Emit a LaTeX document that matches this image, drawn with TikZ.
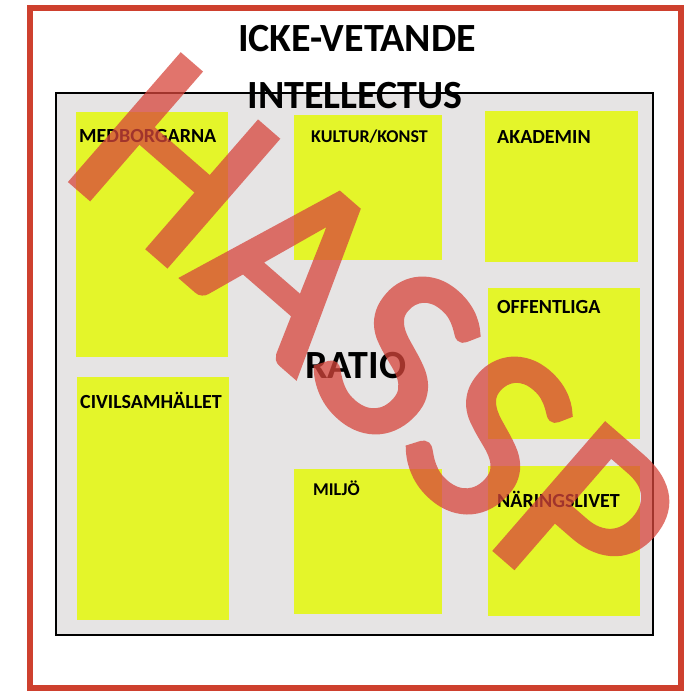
\documentclass[tikz,border=0pt]{standalone}
\usepackage{fontspec}
\setmainfont{Carlito}
\newfontfamily\stampfont[FakeBold=2.5, LetterSpace=1.4]{Carlito}
\definecolor{frame}{RGB}{206,64,46}
\definecolor{panel}{RGB}{230,228,228}
\definecolor{boxyellow}{RGB}{228,245,42}
\definecolor{stamp}{RGB}{215,70,60}
\tikzset{
  ybox/.style={fill=boxyellow, draw=none, inner sep=0pt, anchor=north west},
  lbl/.style={font=\bfseries\fontsize{20}{24}\selectfont, anchor=base west, inner sep=0pt},
  title/.style={font=\bfseries\fontsize{40}{48}\selectfont, anchor=base, inner sep=0pt},
}
\begin{document}
\begin{tikzpicture}[x=1pt,y=-1pt]
\useasboundingbox (0,0) rectangle (684,691);
\fill[white] (0,0) rectangle (684,691);
% outer red frame
\draw[frame, line width=6pt] (30,8) rectangle (681,688);
% inner panel
\node[fill=panel, draw=black, line width=1.6pt, inner sep=0pt, anchor=north west,
      minimum width=597pt, minimum height=542pt] (panel) at (55,92) {};
% yellow boxes
\node[ybox, minimum width=152pt, minimum height=245pt] (med) at (76,112) {};
\node[ybox, minimum width=152pt, minimum height=243pt] (civ) at (77,377) {};
\node[ybox, minimum width=148pt, minimum height=145pt] (kul) at (294,115) {};
\node[ybox, minimum width=153pt, minimum height=151pt] (aka) at (485,111) {};
\node[ybox, minimum width=152pt, minimum height=151pt] (off) at (488,288) {};
\node[ybox, minimum width=148pt, minimum height=145pt] (mil) at (294,469) {};
\node[ybox, minimum width=152pt, minimum height=150pt] (nar) at (488,466) {};
% labels
\node[lbl] (medL) at (79,142) {MEDBORGARNA};
\node[lbl] (civL) at (80,408) {CIVILSAMHÄLLET};
\node[lbl, font=\bfseries\fontsize{18}{22}\selectfont] (kulL) at (311,142) {KULTUR/KONST};
\node[lbl] (akaL) at (497,143) {AKADEMIN};
\node[lbl] (offL) at (497,313) {OFFENTLIGA};
\node[lbl, font=\bfseries\fontsize{18}{22}\selectfont] (milL) at (313,495) {MILJÖ};
\node[lbl] (narL) at (497,507) {NÄRINGSLIVET};
\node[lbl, font=\bfseries\fontsize{40}{46}\selectfont] (ratio) at (305,378) {RATIO};
% titles
\node[title] (t1) at (357,51) {ICKE-VETANDE};
\node[title] (t2) at (355,108) {INTELLECTUS};
% stamp
\begin{scope}[transparency group, opacity=0.75]
\node[anchor=base west, inner sep=0pt, rotate=-41, text=stamp,
      font=\stampfont\fontsize{258}{258}\selectfont] (hassp) at (59,170) {HASSP};
\end{scope}
\end{tikzpicture}
\end{document}
